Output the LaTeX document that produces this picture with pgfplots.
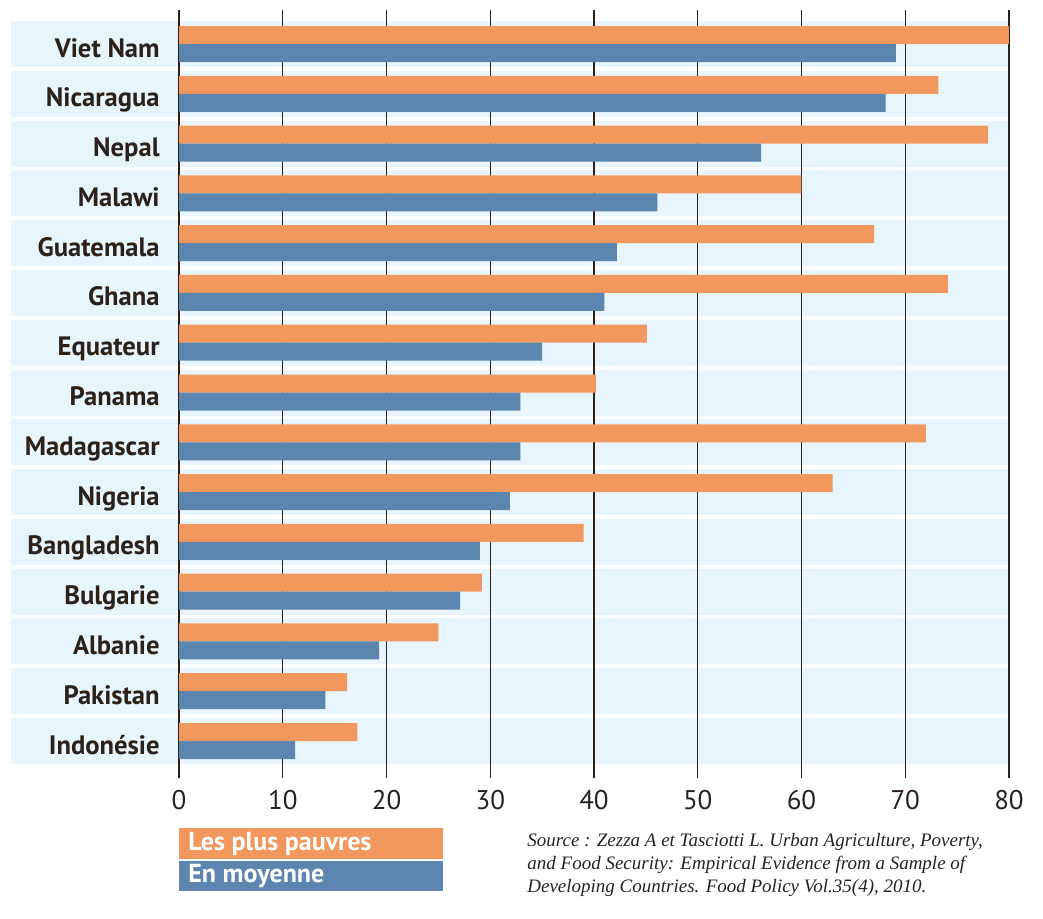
\documentclass[border=0pt]{standalone}
\usepackage{pgfplots}
\pgfplotsset{compat=1.18}
\usepackage{pgfplotstable}
\usepackage{fontspec}
\setmainfont{PT Sans}
\newfontfamily\srcfont{Liberation Serif}
\definecolor{orng}{HTML}{F2975E}
\definecolor{blu}{HTML}{5C86B0}
\definecolor{band}{HTML}{E8F5FC}
\definecolor{txt}{HTML}{2B2119}
\pgfplotstableread{
idx orange blue
0 17.2 11.2
1 16.2 14.1
2 25.0 19.3
3 29.2 27.1
4 39.0 29.0
5 63.0 31.9
6 72.0 32.9
7 40.2 32.9
8 45.1 35.0
9 74.1 41.0
10 67.0 42.2
11 60.0 46.1
12 78.0 56.1
13 73.2 68.1
14 80.0 69.1
}\datatable
\begin{document}
\begin{tikzpicture}
\path (0pt,0pt) rectangle (521.5pt,459pt);
\begin{axis}[
  set layers,
  at={(89.5pt,70pt)}, anchor=south west,
  scale only axis, width=415pt, height=384pt,
  xmin=0, xmax=80, ymin=-0.743, ymax=14.683,
  axis line style={draw=none},
  xbar, bar width=9pt,
  xtick={0,10,...,80},
  ytick={0,...,14},
  yticklabels={Indonésie,Pakistan,Albanie,Bulgarie,Bangladesh,Nigeria,Madagascar,Panama,Equateur,Ghana,Guatemala,Malawi,Nepal,Nicaragua,Viet Nam},
  xmajorgrids, ymajorgrids=false,
  major grid style={draw=txt, line width=0.65pt},
  major tick length=0pt,
  tick style={draw=none},
  /pgf/number format/assume math mode=true,
  xticklabel style={font=\fontsize{13.5}{14}\selectfont, text=txt, anchor=north, inner sep=0pt},
  xticklabel shift=6pt,
  yticklabel style={font=\bfseries\fontsize{13.3}{14}\selectfont, text=txt, anchor=base east, inner sep=0pt, yshift=-6.5pt},
  yticklabel shift=9.5pt,
  clip=false,
]
\pgfplotsinvokeforeach{0,...,14}{
  \pgfonlayer{axis background}
  \fill[band] (axis cs:-16.2,#1-0.462) rectangle (axis cs:80,#1+0.462);
  \endpgfonlayer
}
\addplot[draw=none, fill=orng, bar shift=4.5pt] table[x=orange, y=idx] {\datatable};
\addplot[draw=none, fill=blu, bar shift=-4.5pt] table[x=blue, y=idx] {\datatable};
\end{axis}
\fill[orng] (89.5pt,45pt) rectangle (221.5pt,29.5pt);
\fill[blu] (89.5pt,28.5pt) rectangle (221.5pt,13.5pt);
\node[anchor=west, text=white, font=\bfseries\fontsize{13}{14}\selectfont, inner sep=0pt] at (94pt,37.25pt) {Les plus pauvres};
\node[anchor=west, text=white, font=\bfseries\fontsize{13}{14}\selectfont, inner sep=0pt] at (94pt,21pt) {En moyenne};
\node[anchor=north west, inner sep=0pt, align=left, text=txt, font=\srcfont\itshape\fontsize{9.5}{11.5}\selectfont] at (263.5pt,42.5pt)
{Source : Zezza A et Tasciotti L. Urban Agriculture, Poverty,\\and Food Security: Empirical Evidence from a Sample of\\Developing Countries. Food Policy Vol.35(4), 2010.};
\end{tikzpicture}
\end{document}
